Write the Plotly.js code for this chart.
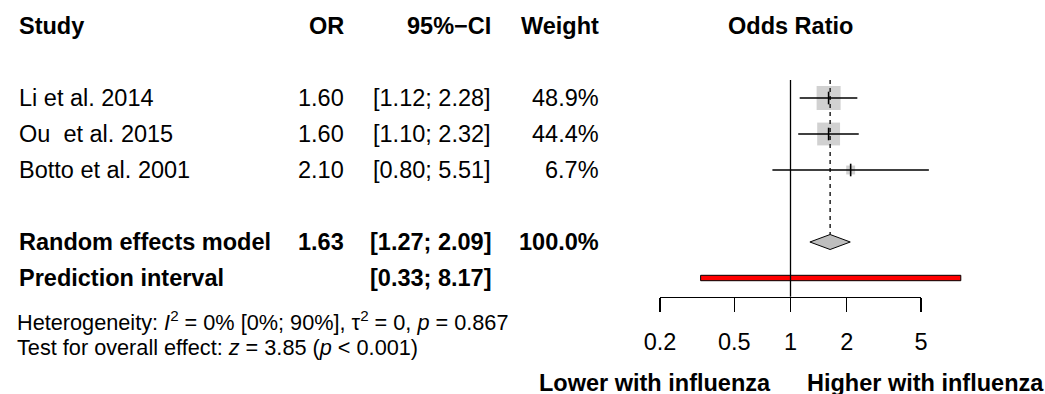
<!DOCTYPE html>
<html><head><meta charset="utf-8">
<script src="https://cdn.plot.ly/plotly-3.0.1.min.js"></script>
<style>html,body{margin:0;padding:0;background:#fff}#chart{width:1045px;height:394px}</style>
</head><body><div id="chart"></div>
<script>
// ---- data ----
const studies = ['Li et al. 2014', 'Ou\u00a0 et al. 2015', 'Botto et al. 2001'];
const orValues = [1.60, 1.60, 2.10];
const ciLower = [1.12, 1.10, 0.80];
const ciUpper = [2.28, 2.32, 5.51];
const weights = [48.9, 44.4, 6.7];
const pooledLabel = 'Random effects model';
const pooledOR = 1.63, pooledLower = 1.27, pooledUpper = 2.09, pooledWeight = 100.0;
const predLabel = 'Prediction interval';
const predLower = 0.33, predUpper = 8.17;
const tickValues = [0.2, 0.5, 1, 2, 5];
const tickLabels = ['0.2', '0.5', '1', '2', '5'];
const headers = ['Study', 'OR', '95%\u2212CI', 'Weight'];
const plotTitle = 'Odds Ratio';
const leftLabel = 'Lower with influenza';
const rightLabel = 'Higher with influenza';
const hetText = 'Heterogeneity: <i>I</i><sup>2</sup> = 0% [0%; 90%], \u03c4<sup>2</sup> = 0, <i>p</i> = 0.867';
const testText = 'Test for overall effect: <i>z</i> = 3.85 (<i>p</i> < 0.001)';

// ---- layout geometry ----
const W = 1045, H = 394;
const FONT = 'Liberation Sans, Arial, Helvetica, sans-serif';
const FS = 23.5, FS_SMALL = 21.7;
const row0 = 26, rowH = 36;            // pixel of header row, row height
const studyRows = [2, 3, 4], pooledRow = 6, predRow = 7;
const onePx = 790.5, pxPerDec = 186.7; // x position of OR=1, px per decade
const axisPy = 296.7;
const rowOf = py => (py - row0) / rowH;
const px2paperX = px => px / W;
const px2paperY = py => 1 - py / H;
const colStudy = 17, colOR = 345.5, colCI = 493, colW = 601;

const fmt2 = v => v.toFixed(2);
const ciTxt = (l, u) => '[' + fmt2(l) + '; ' + fmt2(u) + ']';

const traces = [];
const black = '#000000', gray = '#BEBEBE';

// prediction interval bar
const ph = 2.7 / rowH;
traces.push({type:'scatter', mode:'lines', x:[predLower, predUpper, predUpper, predLower, predLower],
  y:[predRow-ph, predRow-ph, predRow+ph, predRow+ph, predRow-ph], fill:'toself', fillcolor:'#FF0000',
  line:{color:black, width:1}, hoverinfo:'skip', showlegend:false});

// squares
traces.push({type:'scatter', mode:'markers', x:orValues, y:studyRows,
  marker:{symbol:'square', color:gray, size:weights.map(w => 24*Math.sqrt(w/48.9)), line:{width:0}},
  hoverinfo:'skip', showlegend:false});

// CI lines
const cx = [], cy = [];
studies.forEach((s, i) => { cx.push(ciLower[i], ciUpper[i], null); cy.push(studyRows[i], studyRows[i], null); });
traces.push({type:'scatter', mode:'lines', x:cx, y:cy, line:{color:black, width:1.3}, hoverinfo:'skip', showlegend:false});

// estimate ticks
traces.push({type:'scatter', mode:'markers', x:orValues, y:studyRows,
  marker:{symbol:'line-ns', size:9, line:{color:black, width:1.6}}, hoverinfo:'skip', showlegend:false});

// dotted pooled line
const dh = 7.5 / rowH;
traces.push({type:'scatter', mode:'lines', x:[pooledOR, pooledOR], y:[1.5, pooledRow - dh],
  line:{color:black, width:1.3, dash:'4px,4px'}, hoverinfo:'skip', showlegend:false});

// diamond
traces.push({type:'scatter', mode:'lines', x:[pooledLower, pooledOR, pooledUpper, pooledOR, pooledLower],
  y:[pooledRow, pooledRow-dh, pooledRow, pooledRow+dh, pooledRow], fill:'toself', fillcolor:gray,
  line:{color:black, width:1}, hoverinfo:'skip', showlegend:false});

// reference line at 1
traces.push({type:'scatter', mode:'lines', x:[1, 1], y:[1.5, rowOf(axisPy)],
  line:{color:black, width:1.3}, hoverinfo:'skip', showlegend:false});

// dummy trace to show bottom axis
traces.push({type:'scatter', mode:'markers', x:[1], y:[0], xaxis:'x2', yaxis:'y',
  marker:{opacity:0}, hoverinfo:'skip', showlegend:false});

// ---- annotations ----
const ann = [];
function addText(text, px, py, xanchor, size, bold) {
  ann.push({text: bold ? '<b>' + text + '</b>' : text, x: px2paperX(px), y: px2paperY(py),
    xref:'paper', yref:'paper', xanchor: xanchor, yanchor:'middle', showarrow:false,
    font:{family:FONT, size:size, color:black}});
}
const rowPy = k => row0 + rowH * k;
addText(headers[0], colStudy, rowPy(0), 'left', FS, true);
addText(headers[1], colOR, rowPy(0), 'right', FS, true);
addText(headers[2], colCI, rowPy(0), 'right', FS, true);
addText(headers[3], colW, rowPy(0), 'right', FS, true);
addText(plotTitle, onePx, rowPy(0), 'center', FS, true);
studies.forEach((s, i) => {
  const py = rowPy(studyRows[i]);
  addText(s, colStudy, py, 'left', FS, false);
  addText(fmt2(orValues[i]), colOR, py, 'right', FS, false);
  addText(ciTxt(ciLower[i], ciUpper[i]), colCI, py, 'right', FS, false);
  addText(weights[i].toFixed(1) + '%', colW, py, 'right', FS, false);
});
addText(pooledLabel, colStudy, rowPy(pooledRow), 'left', FS, true);
addText(fmt2(pooledOR), colOR, rowPy(pooledRow), 'right', FS, true);
addText(ciTxt(pooledLower, pooledUpper), colCI, rowPy(pooledRow), 'right', FS, true);
addText(pooledWeight.toFixed(1) + '%', colW, rowPy(pooledRow), 'right', FS, true);
addText(predLabel, colStudy, rowPy(predRow), 'left', FS, true);
addText(ciTxt(predLower, predUpper), colCI, rowPy(predRow), 'right', FS, true);
addText(hetText, colStudy - 2, 321, 'left', FS_SMALL, false);
addText(testText, colStudy - 2, 347, 'left', FS_SMALL, false);
addText(leftLabel, onePx - 18, 383, 'right', FS, true);
addText(rightLabel, onePx + 14, 383, 'left', FS, true);

const layout = {
  width: W, height: H, margin:{l:0, r:0, t:0, b:0}, paper_bgcolor:'#fff', plot_bgcolor:'rgba(0,0,0,0)',
  showlegend:false,
  xaxis:{type:'log', domain:[0,1], range:[-onePx/pxPerDec, (W-onePx)/pxPerDec], visible:false, fixedrange:true},
  yaxis:{domain:[0,1], range:[(H-row0)/rowH, -row0/rowH], visible:false, fixedrange:true},
  xaxis2:{type:'log', domain:[px2paperX(onePx + pxPerDec*Math.log10(tickValues[0])), px2paperX(onePx + pxPerDec*Math.log10(tickValues[tickValues.length-1]))],
    range:[Math.log10(tickValues[0]), Math.log10(tickValues[tickValues.length-1])],
    anchor:'free', position: px2paperY(axisPy), side:'bottom',
    showline:true, linecolor:black, linewidth:1.3, ticks:'outside', ticklen:14, tickwidth:1.3, tickcolor:black,
    tickmode:'array', tickvals:tickValues, ticktext:tickLabels, showgrid:false, zeroline:false,
    ticklabelstandoff:10,
    tickfont:{family:FONT, size:FS, color:black}, fixedrange:true},
  annotations: ann
};
Plotly.newPlot('chart', traces, layout, {staticPlot:true, displayModeBar:false});
</script></body></html>
